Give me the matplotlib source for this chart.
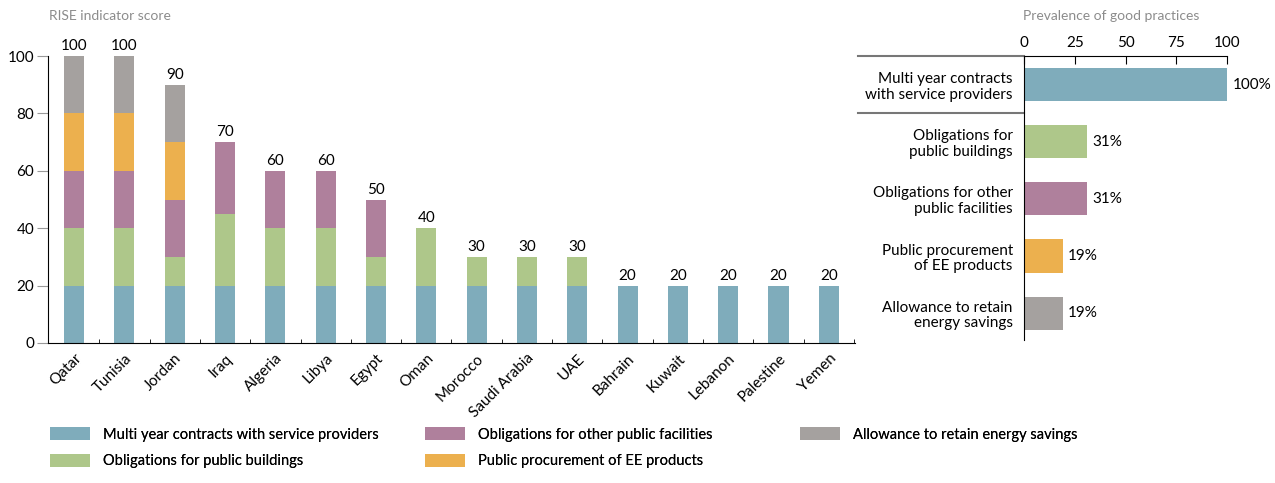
import matplotlib.pyplot as plt
import numpy as np

plt.rcParams['font.family'] = ['Lato', 'DejaVu Sans']

# データ
countries = ["Qatar", "Tunisia", "Jordan", "Iraq", "Algeria", "Libya", "Egypt", "Oman",
             "Morocco", "Saudi Arabia", "UAE", "Bahrain", "Kuwait", "Lebanon", "Palestine", "Yemen"]
multi_year = [20, 20, 20, 20, 20, 20, 20, 20, 20, 20, 20, 20, 20, 20, 20, 20]
public_buildings = [20, 20, 10, 25, 20, 20, 10, 20, 10, 10, 10, 0, 0, 0, 0, 0]
other_facilities = [20, 20, 20, 25, 20, 20, 20, 0, 0, 0, 0, 0, 0, 0, 0, 0]
procurement = [20, 20, 20, 0, 0, 0, 0, 0, 0, 0, 0, 0, 0, 0, 0, 0]
allowance = [20, 20, 20, 0, 0, 0, 0, 0, 0, 0, 0, 0, 0, 0, 0, 0]

practices = ["Multi year contracts\nwith service providers", "Obligations for\npublic buildings",
             "Obligations for other\npublic facilities", "Public procurement\nof EE products",
             "Allowance to retain\nenergy savings"]
prevalence = [100, 31, 31, 19, 19]

legend_names = ["Multi year contracts with service providers", "Obligations for public buildings",
                "Obligations for other public facilities", "Public procurement of EE products",
                "Allowance to retain energy savings"]
colors = ["#7facbb", "#aec78a", "#af809c", "#ecb04e", "#a5a19f"]

fig = plt.figure(figsize=(12.75, 4.83), dpi=100)

# 左: RISEスコア
ax = fig.add_axes([0.0376, 0.2899, 0.633, 0.5941])
x = np.arange(len(countries))
series = [multi_year, public_buildings, other_facilities, procurement, allowance]
bottom = np.zeros(len(countries))
handles = []
for vals, c, name in zip(series, colors, legend_names):
    h = ax.bar(x, vals, width=0.4, bottom=bottom, color=c, label=name)
    handles.append(h)
    bottom += np.array(vals)
for xi, total in zip(x, bottom):
    ax.annotate(f"{int(total)}", (xi, total), xytext=(0, 2), textcoords="offset points",
                ha="center", va="bottom", fontsize=11)

ax.set_xlim(-0.52, 15.52)
ax.set_ylim(0, 100)
ax.set_yticks([0, 20, 40, 60, 80, 100])
ax.tick_params(axis="y", length=8, color="#999999", labelsize=11, pad=2)
ax.set_xticks(x)
ax.set_xticklabels(countries, rotation=45, ha="right", rotation_mode="anchor", fontsize=11)
ax.tick_params(axis="x", which="major", length=0, pad=6)
ax.set_xticks(np.arange(0.5, 16, 1), minor=True)
ax.tick_params(axis="x", which="minor", direction="in", length=3)
ax.spines["top"].set_visible(False)
ax.spines["right"].set_visible(False)
fig.text(0.0384, 0.967, "RISE indicator score", color="#8c8c8c", fontsize=10, va="center")

# 右: 普及率
ax2 = fig.add_axes([0.8031, 0.296, 0.1593, 0.588])
y = np.arange(len(practices))
ax2.barh(y, prevalence, height=0.58, color=colors)
for yi, v in zip(y, prevalence):
    ax2.annotate(f"{v}%", (v, yi), xytext=(4, 0), textcoords="offset points",
                 ha="left", va="center", fontsize=11)
ax2.set_xlim(0, 100)
ax2.set_ylim(4.47, -0.5)
ax2.set_xticks([0, 25, 50, 75, 100])
ax2.xaxis.tick_top()
ax2.tick_params(axis="x", direction="in", length=6, labelsize=11, pad=4)
ax2.set_yticks(y)
ax2.set_yticklabels(practices, fontsize=11, linespacing=1.15)
ax2.tick_params(axis="y", length=0, pad=8)
ax2.spines["right"].set_visible(False)
ax2.spines["bottom"].set_visible(False)
for yl in [-0.5, 0.5]:
    ax2.plot([-0.818, 0], [yl, yl], transform=ax2.get_yaxis_transform(), clip_on=False,
             color="#777777", lw=1.5)
fig.text(0.8024, 0.967, "Prevalence of good practices", color="#8c8c8c", fontsize=10, va="center")

# 凡例 (3列、等間隔)
cols = [[0, 1], [2, 3], [4]]
col_x = [50 / 1275, 425 / 1275, 800 / 1275]
for idx, cx in zip(cols, col_x):
    leg = fig.legend(handles=[handles[i] for i in idx], labels=[legend_names[i] for i in idx],
                     loc="upper left", bbox_to_anchor=(cx, 0.115), frameon=False,
                     fontsize=10.5, handlelength=2.75, handleheight=0.95,
                     labelspacing=0.85, handletextpad=0.9, borderpad=0, borderaxespad=0)
    fig.add_artist(leg)

plt.savefig("out.png", dpi=100)
